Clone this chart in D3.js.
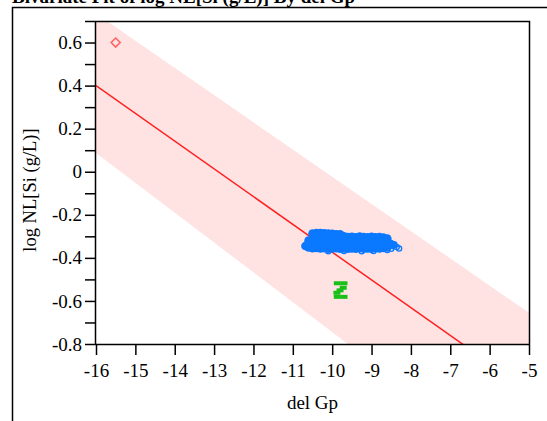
<!DOCTYPE html>
<html><head><meta charset="utf-8">
<script src="https://cdn.jsdelivr.net/npm/d3@7"></script>
<style>body{margin:0;background:#fff;} svg{display:block;} text{font-family:"Liberation Serif","Times New Roman",serif;}</style>
</head><body>
<svg id="c" width="547" height="421"></svg>
<script>
// ---- data ----
const xTicks = [-16,-15,-14,-13,-12,-11,-10,-9,-8,-7,-6,-5];
const yTicks = [0.6,0.4,0.2,0,-0.2,-0.4,-0.6,-0.8];
const yMinor = [0.7,0.5,0.3,0.1,-0.1,-0.3,-0.5,-0.7];
const fitX = [-16,-5];
const fitY = [0.4,-1.018];
const bandX = [-16,-5];
const bandUpper = [0.735,-0.655];
const bandLower = [0.087,-1.438];
const redX = [-15.5];
const redY = [0.6];
const blueX = [-10.5,-10.4,-10.3,-10.2,-10.1,-10.0,-9.9,-9.8,
  -9.7,-9.6,-9.5,-9.4,-9.3,-9.2,-9.1,-9.0,-8.9,-8.8,-8.7,-8.6,
  -10.6,-10.5,-10.4,-10.3,-10.2,-10.1,-10.0,-9.9,-9.8,-9.7,-9.6,-9.5,-9.4,-9.3,-9.2,-9.1,-9.0,-8.9,-8.8,-8.7,-8.6,
  -10.6,-10.5,-10.4,-10.3,-10.2,-10.1,-10.0,-9.9,-9.8,-9.7,-9.6,-9.5,-9.4,-9.3,-9.2,-9.1,-9.0,-8.9,-8.8,-8.7,-8.6,
  -10.68,-10.62,-8.52,-8.46];
const blueY = [-0.287,-0.285,-0.285,-0.286,-0.287,-0.288,-0.29,-0.291,
  -0.3,-0.303,-0.302,-0.304,-0.301,-0.303,-0.305,-0.302,-0.304,-0.303,-0.306,-0.31,
  -0.32,-0.318,-0.321,-0.32,-0.322,-0.321,-0.323,-0.322,-0.324,-0.323,-0.325,-0.322,-0.324,-0.323,-0.325,-0.323,-0.324,-0.326,-0.325,-0.327,-0.33,
  -0.352,-0.355,-0.354,-0.356,-0.355,-0.357,-0.356,-0.355,-0.357,-0.356,-0.358,-0.356,-0.357,-0.355,-0.357,-0.356,-0.357,-0.355,-0.356,-0.354,-0.352,
  -0.345,-0.338,-0.335,-0.34];
const blueOpenX = [-8.42,-8.36,-8.3,-8.5,-10.1,-9.7,-9.25,-8.95,-8.6];
const blueOpenY = [-0.338,-0.35,-0.357,-0.358,-0.369,-0.368,-0.369,-0.368,-0.364];
const greenX = [-9.87,-9.70,-9.72,-9.80,-9.88,-9.87,-9.70];
const greenY = [-0.518,-0.518,-0.539,-0.551,-0.562,-0.581,-0.581];

// ---- layout ----
const svg = d3.select("#c");
const L = 96, R = 529, T = 21, B = 344;
const x = d3.scaleLinear().domain([-16,-5]).range([L,R]);
const y = d3.scaleLinear().domain([-0.8,0.7]).range([B,T]);

// outer frame
svg.append("rect").attr("x",12.5).attr("y",7.5).attr("width",600).attr("height",500)
  .attr("fill","none").attr("stroke","#000").attr("stroke-width",1.5);
// title (cut off at top)
svg.append("text").attr("x",12).attr("y",3).attr("font-size",19).attr("font-weight","bold")
  .text("Bivariate Fit of log NL[Si (g/L)] By del Gp");

svg.append("clipPath").attr("id","clip").append("rect").attr("x",L).attr("y",T).attr("width",R-L).attr("height",B-T);
const g = svg.append("g").attr("clip-path","url(#clip)");

// band
const bandPts = bandX.map((d,i)=>[x(d),y(bandUpper[i])]).concat(bandX.map((d,i)=>[x(d),y(bandLower[i])]).reverse());
g.append("path").attr("d", d3.line()(bandPts) + "Z").attr("fill","#ffe3e3").attr("stroke","none");

// fit line
g.append("path").attr("d", d3.line()(fitX.map((d,i)=>[x(d),y(fitY[i])])))
  .attr("stroke","#ff2020").attr("stroke-width",1.5).attr("fill","none");

// points
const blue = "#0a78ff";
g.selectAll("circle.b").data(blueX.map((d,i)=>[d,blueY[i]])).join("circle")
  .attr("cx",d=>x(d[0])).attr("cy",d=>y(d[1])).attr("r",4.3).attr("fill",blue);
g.selectAll("circle.bo").data(blueOpenX.map((d,i)=>[d,blueOpenY[i]])).join("circle")
  .attr("cx",d=>x(d[0])).attr("cy",d=>y(d[1])).attr("r",2.6).attr("fill","none").attr("stroke",blue).attr("stroke-width",1.3);
g.selectAll("rect.gr").data(greenX.map((d,i)=>[d,greenY[i]])).join("rect")
  .attr("x",d=>x(d[0])-3.5).attr("y",d=>y(d[1])-2).attr("width",7).attr("height",4).attr("fill","#16c016");
g.selectAll("path.red").data(redX.map((d,i)=>[d,redY[i]])).join("path")
  .attr("d",d=>`M${x(d[0])},${y(d[1])-4.5}L${x(d[0])+4.5},${y(d[1])}L${x(d[0])},${y(d[1])+4.5}L${x(d[0])-4.5},${y(d[1])}Z`)
  .attr("fill","none").attr("stroke","#ff6464").attr("stroke-width",1.6);

// frame top/right
svg.append("path").attr("d",`M${L},${T+0.5}H${R+0.5}V${B}`).attr("fill","none").attr("stroke","#000").attr("stroke-width",1.5);

// axes
const fmtY = d=> d===0 ? "0" : d.toFixed(1);
const fmtX = d=> String(d);
const ax = svg.append("g").attr("transform",`translate(0,${B})`)
  .call(d3.axisBottom(x).tickValues(xTicks).tickFormat(fmtX).tickSize(11).tickPadding(8.5));
const ay = svg.append("g").attr("transform",`translate(${L},0)`)
  .call(d3.axisLeft(y).tickValues(yTicks).tickFormat(fmtY).tickSize(11).tickPadding(3));
const aym = svg.append("g").attr("transform",`translate(${L},0)`)
  .call(d3.axisLeft(y).tickValues(yMinor).tickFormat("").tickSize(11));
[ax,ay,aym].forEach(a=>{
  a.select(".domain").attr("stroke","#000").attr("stroke-width",1.5);
  a.selectAll(".tick line").attr("stroke","#000").attr("stroke-width",1.5);
  a.selectAll(".tick text").attr("font-size",19).attr("fill","#000");
});
aym.select(".domain").remove();
ax.select(".domain").attr("d",`M${L},0.5H${R+0.5}`);
ay.select(".domain").attr("d",`M-0.5,${T}V${B}`);

// axis titles
svg.append("text").attr("x",(L+R)/2).attr("y",409).attr("text-anchor","middle").attr("font-size",19).text("del Gp");
svg.append("text").attr("transform",`translate(36,190) rotate(-90)`).attr("text-anchor","middle").attr("font-size",18.5).text("log NL[Si (g/L)]");
</script>
</body></html>
